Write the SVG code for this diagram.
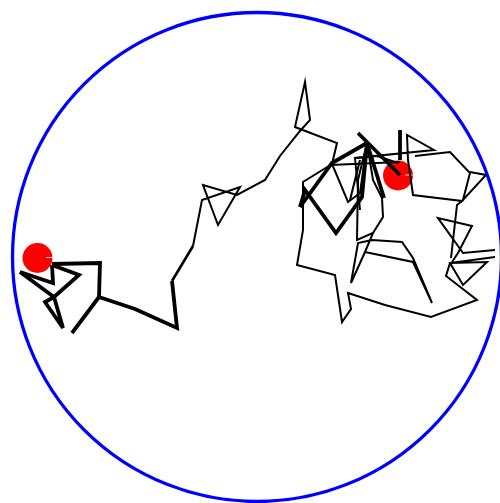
<svg xmlns="http://www.w3.org/2000/svg" width="500" height="503" viewBox="0 0 500 503">
<style>
.walk{fill:none;stroke:#000;stroke-linejoin:miter;stroke-miterlimit:6}
.thin{stroke-width:2}
.mid{stroke-width:2.6}
.thick{stroke-width:3.8}
.dot{fill:#f00}
.nick{stroke:#fff;stroke-width:0.8}
</style>
<rect width="500" height="503" fill="#fff"/>
<g id="boundary">
<circle cx="257" cy="257" r="244.5" fill="none" stroke="#00f" stroke-width="3.3"/>
</g>
<g id="start-points">
<circle class="dot" cx="37.5" cy="258" r="15"/>
<line class="nick" x1="46" y1="257.5" x2="53" y2="257.5"/>
<circle class="dot" cx="398" cy="175.5" r="15"/>
<line class="nick" x1="405" y1="175" x2="413" y2="175"/>
</g>
<g id="connectors">
<polyline class="walk thick" points="20,272 53,283 52,265"/>
<polyline class="walk thick" points="20,272 54,297 79,275 52,265"/>
<polyline class="walk thick" points="54,297 45,302 63,328 54,297"/>
<polyline class="walk thick" points="52,264 100,263 99,297 72,333"/>
<polyline class="walk thick" points="99,297 135,309 177,328 172,281"/>
<polyline class="walk mid" points="172,281 193,246"/>
<polyline class="walk thin" points="193,246 202,200 240,187 218,225 203,185 237,195 265,180 280,156 300,131 310,120 305,82 295,127 337,143 332,164 348,202 360,193 367,143"/>
<polyline class="walk thin" points="332,164 303,182 303,230 297,265 335,275 342,322 351,309 348,293 385,305 431,317 477,300 446,276 450,263 487,262 463,285 450,263 495,257"/>
<polyline class="walk thin" points="495,250 463,253 438,218 472,226 458,253 452,262"/>
<polyline class="walk thin" points="451,258 457,205 462,201 413,195 408,160 407,135 434,150 355,158 360,210"/>
<polyline class="walk thin" points="415,156 450,152 470,173 463,200 486,175 470,172"/>
<polyline class="walk thin" points="330,165 400,162"/>
<polyline class="walk thin" points="357,158 377,156 398,163"/>
<polyline class="walk thin" points="367,143 358,180 357,240 373,233 383,217 382,198 373,180 367,143"/>
<polyline class="walk thin" points="373,233 365,252 351,283 358,243 372,240 402,242 413,258 432,303 413,262 365,252"/>
<polyline class="walk thin" points="360,160 350,200"/>
<polyline class="walk thick" points="300,207 305,190 336,233 362,197 367,143"/>
<polyline class="walk thick" points="300,207 332,163 367,143"/>
<polyline class="walk thick" points="358,133 400,175"/>
<polyline class="walk thick" points="367,143 384,198"/>
<polyline class="walk thick" points="400,130 400,160"/>
</g>
</svg>
